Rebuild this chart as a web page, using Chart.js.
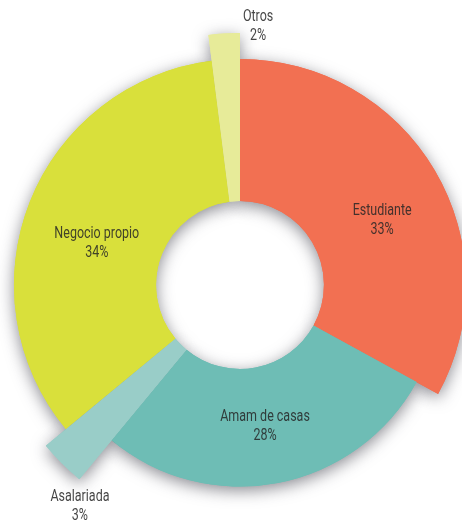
<!DOCTYPE html>
<html>
<head>
<meta charset="utf-8">
<script src="https://cdn.jsdelivr.net/npm/chart.js@4.4.0/dist/chart.umd.min.js"></script>
<style>
  html, body { margin: 0; padding: 0; background: #fff; }
</style>
</head>
<body>
<canvas id="myChart" width="462" height="523"></canvas>
<script>
var categories = ['Estudiante', 'Amam de casas', 'Asalariada', 'Negocio propio', 'Otros'];
var percents = [33, 28, 3, 34, 2];
var colors = ['#f27052', '#6ebdb5', '#99cdc8', '#d9e03b', '#e7eb99'];

// how far each slice reaches, as a share of the full radius
var reach = [0.897, 0.80, 1, 0.897, 1];
// label spots: distance from the centre (px) and turn off the mid-angle (deg)
var labelDist = [156, 144, 273, 149, 259];
var labelTurn = [6.3, 0.8, -9.1, -5.6, 7.6];

var sliceShape = {
    id: 'sliceShape',
    beforeDatasetsDraw: function(chart) {
        var meta = chart.getDatasetMeta(0);
        var full = meta.controller.outerRadius;
        var ctx = chart.ctx;
        meta.data.forEach(function(arc, i) {
            arc.outerRadius = full * reach[i];
        });
        // soft shadow pass underneath, the real slices cover it afterwards
        ctx.save();
        ctx.shadowColor = 'rgba(60,60,72,0.6)';
        ctx.shadowBlur = 16;
        ctx.shadowOffsetY = 4;
        meta.data.forEach(function(arc) { arc.draw(ctx); });
        ctx.restore();
    },
    afterDatasetsDraw: function(chart) {
        var ctx = chart.ctx;
        chart.getDatasetMeta(0).data.forEach(function(arc, i) {
            var a = (arc.startAngle + arc.endAngle) / 2 + labelTurn[i] * Math.PI / 180;
            var x = arc.x + Math.cos(a) * labelDist[i];
            var y = arc.y + Math.sin(a) * labelDist[i];
            ctx.save();
            ctx.translate(x, y);
            ctx.scale(0.78, 1);   // narrow lettering
            ctx.font = '16px Roboto, "Liberation Sans", sans-serif';
            ctx.textAlign = 'center';
            ctx.textBaseline = 'middle';
            ctx.fillStyle = 'rgba(38,38,38,0.85)';
            ctx.fillText(categories[i], 0, -9.5);
            ctx.fillText(percents[i] + '%', 0, 9.5);
            ctx.restore();
        });
    }
};

var ctx = document.getElementById('myChart').getContext('2d');
var myChart = new Chart(ctx, {
    type: 'doughnut',
    data: {
        labels: categories,
        datasets: [{
            data: percents,
            backgroundColor: colors,
            borderWidth: 0,
            clip: false
        }]
    },
    options: {
        responsive: false,
        animation: false,
        events: [],
        radius: 252,
        cutout: '33.3%',
        layout: { padding: { left: 18, top: 47, right: 0, bottom: 0 } },
        plugins: {
            legend: { display: false },
            tooltip: { enabled: false }
        }
    },
    plugins: [sliceShape]
});
</script>
</body>
</html>
